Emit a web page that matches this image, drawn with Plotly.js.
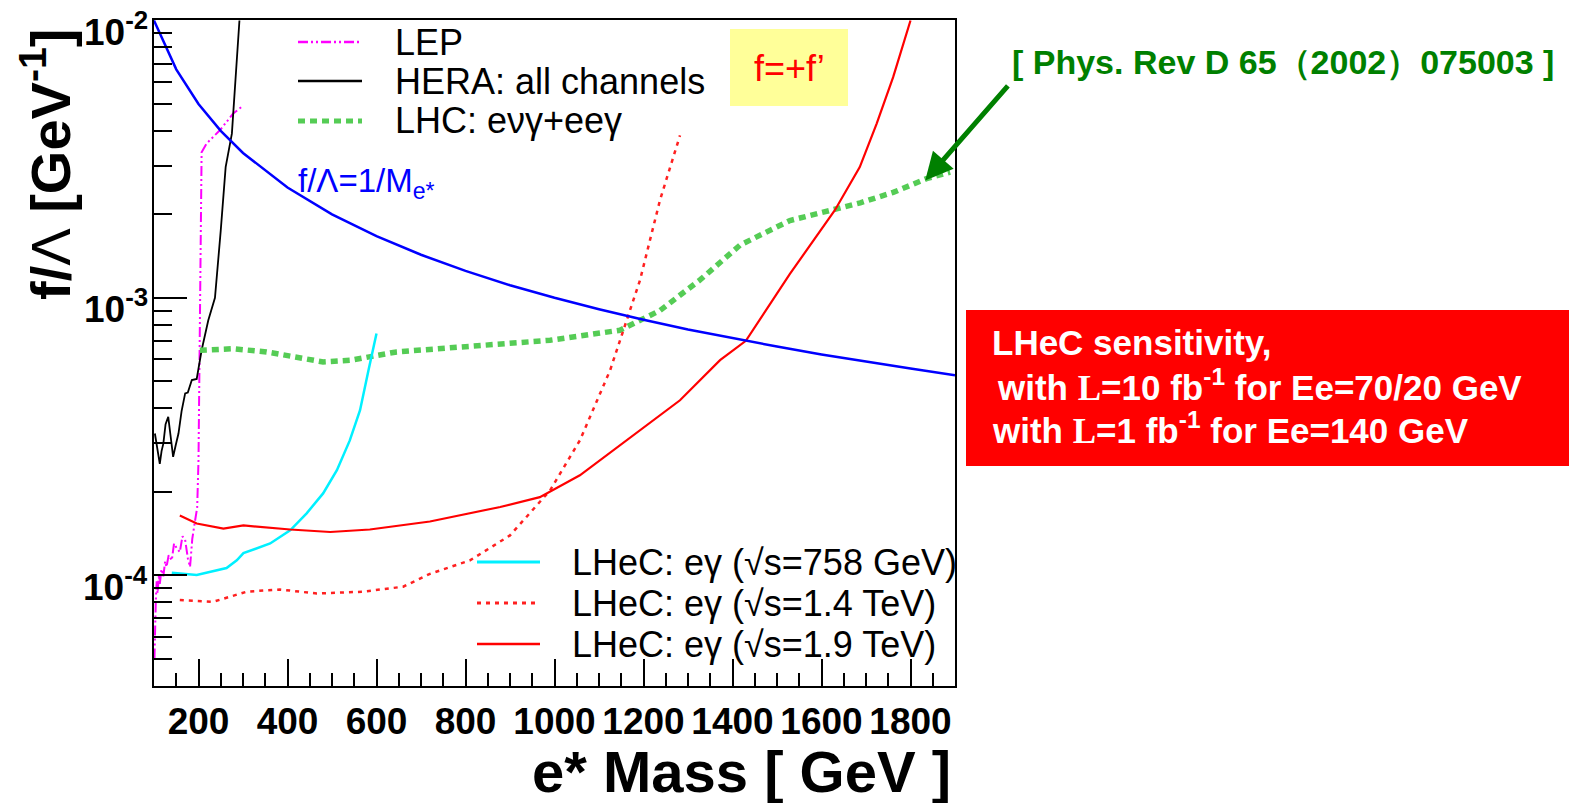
<!DOCTYPE html>
<html>
<head>
<meta charset="utf-8">
<script src="https://cdn.plot.ly/plotly-3.0.1.min.js"></script>
<style>html,body{margin:0;padding:0;background:#fff;}#chart{width:1569px;height:803px;}</style>
</head>
<body>
<div id="chart"></div>
<script>
// ---- data ----
const seriesNames = ["LEP", "HERA: all channels", "LHC: e\u03bd\u03b3+ee\u03b3",
  "LHeC: e\u03b3 (\u221as=758 GeV)", "LHeC: e\u03b3 (\u221as=1.4 TeV)", "LHeC: e\u03b3 (\u221as=1.9 TeV)", "f/\u039b=1/M"];

const lepMass = [101,102,104,106,108,111,113,117,121,125,128,133,140,145,151,158,164,170,176,181,186,192,197,200,202,204,207,218,248,278,301];
const lepVal  = [5.0e-5,6.5e-5,8.0e-5,9.5e-5,8.6e-5,1.0e-4,9.3e-5,1.05e-4,9.9e-5,1.12e-4,1.07e-4,1.18e-4,1.13e-4,1.3e-4,1.25e-4,1.21e-4,1.38e-4,1.34e-4,1.15e-4,1.07e-4,1.35e-4,1.56e-4,1.75e-4,2.6e-4,6.5e-4,1.6e-3,3.35e-3,3.6e-3,4.02e-3,4.62e-3,4.94e-3];

const heraMass = [102,107,113,117,121,126,132,137,143,149,155,162,170,176,185,196,207,222,237,250,261,275,282,292];
const heraVal  = [3.24e-4,2.9e-4,2.52e-4,2.8e-4,2.98e-4,3.5e-4,3.72e-4,3.2e-4,2.67e-4,2.95e-4,3.24e-4,3.9e-4,4.52e-4,4.55e-4,5.05e-4,5.1e-4,6.47e-4,8.3e-4,1.0e-3,1.75e-3,2.96e-3,3.91e-3,5.9e-3,1.0e-2];

const lhcMass = [203,278,353,428,480,540,615,645,765,990,1147,1237,1327,1417,1529,1642,1687,1761,1836,1889];
const lhcVal  = [6.47e-4,6.55e-4,6.38e-4,6.04e-4,5.87e-4,5.95e-4,6.21e-4,6.38e-4,6.6e-4,7.03e-4,7.64e-4,9.0e-4,1.16e-3,1.55e-3,1.9e-3,2.1e-3,2.2e-3,2.4e-3,2.69e-3,2.84e-3];

const lhec758Mass = [140,196,263,286,301,361,406,443,480,511,540,563,582,600];
const lhec758Val  = [1.02e-4,1.0e-4,1.06e-4,1.13e-4,1.2e-4,1.3e-4,1.45e-4,1.67e-4,1.97e-4,2.39e-4,3.06e-4,3.93e-4,5.48e-4,7.43e-4];

const lhec14Mass = [158,233,308,383,466,570,660,720,810,900,990,1057,1125,1192,1237,1282];
const lhec14Val  = [8.13e-5,8.01e-5,8.71e-5,8.87e-5,8.58e-5,8.71e-5,9.08e-5,1.01e-4,1.13e-4,1.39e-4,2.02e-4,3.06e-4,5.48e-4,1.156e-3,2.25e-3,3.85e-3];

const lhec19Mass = [158,196,256,301,406,496,585,720,878,967,1057,1147,1282,1372,1430,1529,1630,1686,1724,1761,1800];
const lhec19Val  = [1.64e-4,1.535e-4,1.47e-4,1.51e-4,1.46e-4,1.43e-4,1.46e-4,1.56e-4,1.76e-4,1.91e-4,2.29e-4,2.94e-4,4.27e-4,5.96e-4,7.0e-4,1.22e-3,2.07e-3,2.96e-3,4.25e-3,6.25e-3,1.0e-2];

const unitMass = [100,150,200,250,300,400,500,600,700,800,900,1000,1100,1200,1300,1400,1500,1600,1700,1800,1900];
const unitVal  = [0.01,0.00667,0.005,0.004,0.00333,0.0025,0.002,0.00167,0.00143,0.00125,0.00111,0.001,0.000909,0.000833,0.000769,0.000714,0.000667,0.000625,0.000588,0.000556,0.000526];

const yTickVals = [1e-4, 1e-3, 1e-2];
const yTickText = ["10<sup>-4</sup>", "10<sup>-3</sup>", "10<sup>-2</sup>"];
const yMinorVals = [4e-5,5e-5,6e-5,7e-5,8e-5,9e-5,2e-4,3e-4,4e-4,5e-4,6e-4,7e-4,8e-4,9e-4,2e-3,3e-3,4e-3,5e-3,6e-3,7e-3,8e-3,9e-3];

const refText = "[ Phys. Rev D 65\uff082002\uff09075003 ]";
const boxLines = ["LHeC sensitivity,",
  "with <span style=\"font-family:'Liberation Serif'\">L</span>=10 fb<sup>-1</sup> for Ee=70/20 GeV",
  "with <span style=\"font-family:'Liberation Serif'\">L</span>=1 fb<sup>-1</sup> for Ee=140 GeV"];

// ---- styles ----
const FONT = "Liberation Sans, Arial, Helvetica, sans-serif";
const styles = [
  {color:"#ff00ff", width:2, dash:"10px,3px,2px,3px,2px,3px"},
  {color:"#000000", width:1.8, dash:"solid"},
  {color:"#55cc55", width:5.5, dash:"7px,5px"},
  {color:"#00f0ff", width:2.5, dash:"solid"},
  {color:"#ff2020", width:2.5, dash:"4px,5px"},
  {color:"#ff0000", width:2.2, dash:"solid"},
  {color:"#0000ff", width:2.5, dash:"solid"}
];
const xs = [lepMass, heraMass, lhcMass, lhec758Mass, lhec14Mass, lhec19Mass, unitMass];
const ys = [lepVal, heraVal, lhcVal, lhec758Val, lhec14Val, lhec19Val, unitVal];

const traces = xs.map((x, i) => ({
  type: "scatter", mode: "lines", x: x, y: ys[i], name: seriesNames[i],
  line: {color: styles[i].color, width: styles[i].width, dash: styles[i].dash, shape: "linear"},
  showlegend: false, hoverinfo: "x+y+name"
}));

// ---- geometry helpers (pixel -> paper) ----
const M = {l:154, r:614, t:20, b:117};
const W = 1569, H = 803;
const PW = W - M.l - M.r, PH = H - M.t - M.b;
const px = v => (v - M.l) / PW;
const py = v => 1 - (v - M.t) / PH;

const shapes = [];
const annotations = [];

// y tick labels (ROOT style: drawn slightly below their ticks)
yTickVals.forEach((v, i) => annotations.push({xref:"paper", yref:"y", x:px(150), y:Math.log10(v),
  xanchor:"right", yanchor:"middle", yshift:-9, text:yTickText[i], showarrow:false,
  font:{family:FONT, size:37, color:"#000", weight:"bold"}}));

// manual legends
const legTop = {x0:298, x1:362, tx:393, ys:[42, 81, 121], idx:[0,1,2]};
const legBot = {x0:477, x1:540, tx:570, ys:[562, 603, 644], idx:[3,4,5]};
[legTop, legBot].forEach(L => {
  L.idx.forEach((k, j) => {
    shapes.push({type:"line", xref:"paper", yref:"paper", x0:px(L.x0), x1:px(L.x1), y0:py(L.ys[j]), y1:py(L.ys[j]),
      line:{color:styles[k].color, width:Math.min(styles[k].width+0.5, 5), dash:styles[k].dash}});
    annotations.push({xref:"paper", yref:"paper", x:px(L.tx), y:py(L.ys[j]), xanchor:"left", yanchor:"middle",
      text:seriesNames[k], showarrow:false, font:{family:FONT, size:36, color:"#000"}});
  });
});

// yellow box
shapes.push({type:"rect", xref:"paper", yref:"paper", x0:px(730), x1:px(848), y0:py(106), y1:py(29),
  fillcolor:"#ffff99", line:{width:0}, layer:"below"});
annotations.push({xref:"paper", yref:"paper", x:px(789), y:py(68), xanchor:"center", yanchor:"middle",
  text:"f=+f\u2019", showarrow:false, font:{family:FONT, size:36, color:"#ff0000"}});

// blue curve label
annotations.push({xref:"paper", yref:"paper", x:px(296), y:py(183), xanchor:"left", yanchor:"middle",
  text:"f/\u039b=1/M<sub>e*</sub>", showarrow:false, font:{family:FONT, size:33, color:"#0000ff"}});

// red box
shapes.push({type:"rect", xref:"paper", yref:"paper", x0:px(966), x1:px(1575), y0:py(466), y1:py(310),
  fillcolor:"#ff0000", line:{width:0}});
const boxX = [990, 995, 990], boxY = [342, 385, 428];
boxLines.forEach((t, i) => annotations.push({xref:"paper", yref:"paper", x:px(boxX[i]), y:py(boxY[i]),
  xanchor:"left", yanchor:"middle", text:t, showarrow:false,
  font:{family:FONT, size:35, color:"#ffffff", weight:"bold"}}));

// reference text + arrow
annotations.push({xref:"paper", yref:"paper", x:px(1010), y:py(62), xanchor:"left", yanchor:"middle",
  text:refText, showarrow:false, font:{family:FONT, size:34, color:"#008000", weight:"bold"}});
annotations.push({xref:"x", yref:"y", x:1833, y:Math.log10(2.65e-3), text:"", showarrow:true,
  ax:84, ay:-96, arrowcolor:"#008000", arrowwidth:5, arrowhead:2, arrowsize:1.1, standoff:0});

// axis titles
annotations.push({xref:"paper", yref:"paper", x:px(46), y:py(165), xanchor:"center", yanchor:"middle",
  textangle:-90, text:"f/<span style=\"font-weight:normal\">\u039b</span> [GeV<sup>-1</sup>]", showarrow:false,
  font:{family:FONT, size:56, color:"#000", weight:"bold"}});
annotations.push({xref:"paper", yref:"paper", x:px(953), y:py(771), xanchor:"right", yanchor:"middle",
  text:"e* Mass [ GeV ]", showarrow:false, font:{family:FONT, size:58, color:"#000", weight:"bold"}});

const layout = {
  width: W, height: H, autosize: false,
  margin: {l:M.l, r:M.r, t:M.t, b:M.b, pad:0},
  paper_bgcolor: "#ffffff", plot_bgcolor: "#ffffff",
  showlegend: false,
  xaxis: {
    type: "linear", range: [100, 1900], tick0: 0, dtick: 200,
    ticks: "inside", ticklen: 27, tickwidth: 2, tickcolor: "#000",
    showline: true, linewidth: 2, linecolor: "#000", mirror: true,
    showgrid: false, zeroline: false,
    tickfont: {family: FONT, size: 37, color: "#000", weight: "bold"},
    ticklabelstandoff: 2,
    minor: {dtick: 50, tick0: 0, ticks: "inside", ticklen: 13, tickwidth: 2, tickcolor: "#000", showgrid: false}
  },
  yaxis: {
    type: "log", range: [Math.log10(3.98e-5), -1.998],
    tickmode: "array", tickvals: yTickVals, ticktext: yTickText, showticklabels: false,
    ticks: "inside", ticklen: 33, tickwidth: 2, tickcolor: "#000",
    showline: true, linewidth: 2, linecolor: "#000", mirror: true,
    showgrid: false, zeroline: false,
    minor: {tickmode: "array", tickvals: yMinorVals, ticks: "inside", ticklen: 18, tickwidth: 2, tickcolor: "#000", showgrid: false}
  },
  shapes: shapes,
  annotations: annotations
};

Plotly.newPlot("chart", traces, layout, {displayModeBar: false, staticPlot: true});
</script>
</body>
</html>
